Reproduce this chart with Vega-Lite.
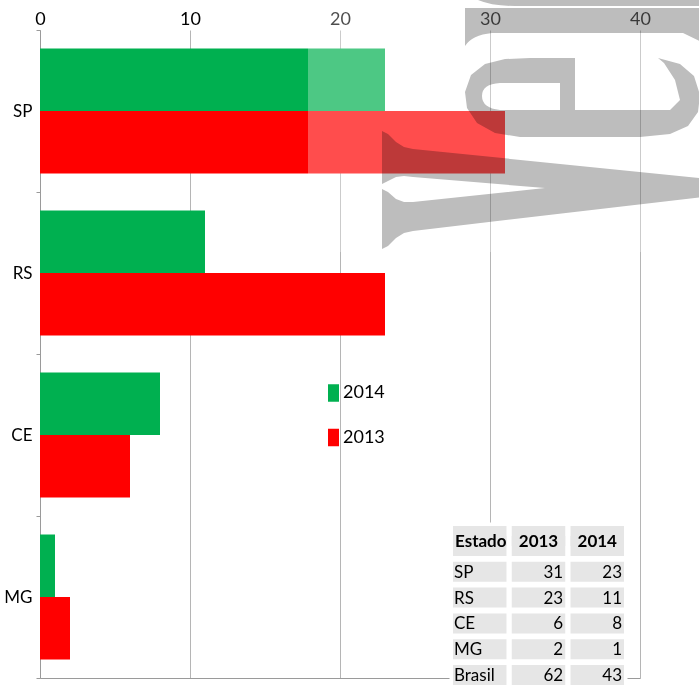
{
  "$schema": "https://vega.github.io/schema/vega-lite/v6.json",
  "width": 600,
  "height": 648,
  "autosize": {"type": "none"},
  "padding": {"left": 40, "top": 30, "right": 59, "bottom": 8},
  "config": {"view": {"stroke": null}, "font": "Lato"},
  "datasets": {
    "dados": [
      {"estado": "SP", "ano": "2014", "n": 23},
      {"estado": "SP", "ano": "2013", "n": 31},
      {"estado": "RS", "ano": "2014", "n": 11},
      {"estado": "RS", "ano": "2013", "n": 23},
      {"estado": "CE", "ano": "2014", "n": 8},
      {"estado": "CE", "ano": "2013", "n": 6},
      {"estado": "MG", "ano": "2014", "n": 1},
      {"estado": "MG", "ano": "2013", "n": 2}
    ],
    "tabela": [
      {"linha": "Estado", "coluna": "Estado", "texto": "Estado"},
      {"linha": "Estado", "coluna": "2013", "texto": "2013"},
      {"linha": "Estado", "coluna": "2014", "texto": "2014"},
      {"linha": "SP", "coluna": "Estado", "texto": "SP"},
      {"linha": "SP", "coluna": "2013", "texto": "31"},
      {"linha": "SP", "coluna": "2014", "texto": "23"},
      {"linha": "RS", "coluna": "Estado", "texto": "RS"},
      {"linha": "RS", "coluna": "2013", "texto": "23"},
      {"linha": "RS", "coluna": "2014", "texto": "11"},
      {"linha": "CE", "coluna": "Estado", "texto": "CE"},
      {"linha": "CE", "coluna": "2013", "texto": "6"},
      {"linha": "CE", "coluna": "2014", "texto": "8"},
      {"linha": "MG", "coluna": "Estado", "texto": "MG"},
      {"linha": "MG", "coluna": "2013", "texto": "2"},
      {"linha": "MG", "coluna": "2014", "texto": "1"},
      {"linha": "Brasil", "coluna": "Estado", "texto": "Brasil"},
      {"linha": "Brasil", "coluna": "2013", "texto": "62"},
      {"linha": "Brasil", "coluna": "2014", "texto": "43"}
    ],
    "marca": [{"marca": "Veja"}]
  },
  "layer": [
    {
      "layer": [
        {
          "data": {"name": "dados"},
          "mark": {"type": "bar"},
          "encoding": {
            "y": {
              "field": "estado", "type": "nominal",
              "scale": {"domain": ["SP", "RS", "CE", "MG"], "paddingInner": 0, "paddingOuter": 0},
              "axis": {
                "orient": "left", "title": null, "grid": false,
                "labelFontSize": 17, "labelColor": "#000000", "labelPadding": 4,
                "domainColor": "#9a9a9a", "tickColor": "#9a9a9a", "tickSize": 4, "tickBand": "extent"
              }
            },
            "yOffset": {"field": "ano", "type": "nominal", "sort": ["2014", "2013"], "scale": {"paddingInner": 0, "paddingOuter": 0.296}},
            "x": {
              "field": "n", "type": "quantitative",
              "scale": {"domain": [0, 40], "nice": false},
              "axis": {
                "orient": "top", "title": null, "values": [0, 10, 20, 30, 40],
                "grid": true, "gridColor": "#b5b5b5", "ticks": false, "domain": false,
                "labelFontSize": 18, "labelColor": "#000000", "labelPadding": 2, "labelFlush": false
              }
            },
            "color": {
              "field": "ano", "type": "nominal",
              "scale": {"domain": ["2014", "2013"], "range": ["#00b050", "#ff0000"]},
              "legend": {
                "orient": "none", "legendX": 284.5, "legendY": 354, "title": null,
                "symbolType": "M-5.5,-8.75H5.5V8.75H-5.5Z", "symbolSize": 4,
                "symbolStrokeWidth": 0, "symbolOpacity": 1,
                "labelFontSize": 18, "labelColor": "#000000", "labelOffset": 0.5,
                "rowPadding": 26.5, "padding": 0
              }
            }
          }
        },
        {
          "data": {"name": "marca"},
          "mark": {"type": "point", "shape": "M-32,-130H400V141H-32Z", "size": 4, "filled": true, "fill": "#ffffff", "fillOpacity": 0.3, "strokeWidth": 0, "opacity": 1},
          "encoding": {
            "x": {"datum": 20, "type": "quantitative", "axis": {"orient": "bottom", "title": null, "labels": false, "ticks": false, "grid": false, "domain": true, "domainColor": "#9a9a9a"}},
            "y": {"datum": "SP", "type": "nominal"}
          }
        },
        {
          "data": {"name": "marca"},
          "mark": {
            "type": "point",
            "shape": "M42,20L48,23L56,31L64,36L73,38L448,76L73,120L64,122L56,127L48,135L42,138L42,78L48,81L56,88L64,91L73,91L205,77L73,66L64,65L56,66L48,70L42,73Z M235,-53L235,-1L330,-1L340,-11L335,-31L324,-48L318,-53L340,-47L354,-35L360,-16L358,1L348,15L330,23L300,26L180,26L155,22L137,12L127,-3L125,-19L131,-36L145,-47L165,-52L190,-53Z M220,-28L160,-28Q142,-27 142,-15Q142,-3 160,-1L220,-1Z M125,-103L380,-103L380,-78L152,-78Q132,-76 125,-65Z M138,-116L380,-116L380,-105L175,-105Q152,-105 138,-111Z M343,-78L380,-78L380,-60Z",
            "size": 4, "filled": true, "fill": "#bdbdbd", "strokeWidth": 0, "opacity": 1, "blend": "multiply"
          },
          "encoding": {
            "x": {"datum": 20, "type": "quantitative", "axis": null},
            "y": {"datum": "SP", "type": "nominal"}
          }
        }
      ],
      "resolve": {"axis": {"x": "independent"}}
    },
    {
      "data": {"name": "tabela"},
      "layer": [
        {
          "mark": {"type": "rect", "fill": "#ffffff", "stroke": "#ffffff", "strokeWidth": 7},
          "encoding": {
            "x": {"field": "coluna", "type": "nominal", "scale": {"domain": ["Estado", "2013", "2014"], "range": [413, 584], "paddingInner": 0.09, "paddingOuter": 0}, "axis": null},
            "y": {"field": "linha", "type": "nominal", "scale": {"domain": ["Estado", "SP", "RS", "CE", "MG", "Brasil"], "range": [506, 655], "paddingInner": 0.225, "paddingOuter": 0}, "axis": null}
          }
        },
        {
          "transform": [{"filter": "datum.linha === 'Estado'"}],
          "mark": {"type": "rect", "fill": "#ffffff", "stroke": "#ffffff", "strokeWidth": 7, "yOffset": -10},
          "encoding": {
            "x": {"field": "coluna", "type": "nominal", "axis": null},
            "y": {"field": "linha", "type": "nominal", "axis": null}
          }
        },
        {
          "mark": {"type": "rect", "fill": "#e6e6e6"},
          "encoding": {
            "x": {"field": "coluna", "type": "nominal", "axis": null},
            "y": {"field": "linha", "type": "nominal", "axis": null}
          }
        },
        {
          "transform": [{"filter": "datum.linha === 'Estado'"}],
          "mark": {"type": "rect", "fill": "#e6e6e6", "yOffset": -10},
          "encoding": {
            "x": {"field": "coluna", "type": "nominal", "axis": null},
            "y": {"field": "linha", "type": "nominal", "axis": null}
          }
        },
        {
          "transform": [{"filter": "datum.linha === 'Estado' && datum.coluna === 'Estado'"}],
          "mark": {"type": "text", "align": "left", "baseline": "middle", "dx": 2, "yOffset": -4, "fontSize": 17, "fontWeight": "bold", "color": "#000000"},
          "encoding": {
            "x": {"field": "coluna", "type": "nominal", "bandPosition": 0, "axis": null},
            "y": {"field": "linha", "type": "nominal", "axis": null},
            "text": {"field": "texto"}
          }
        },
        {
          "transform": [{"filter": "datum.linha === 'Estado' && datum.coluna !== 'Estado'"}],
          "mark": {"type": "text", "align": "center", "baseline": "middle", "yOffset": -4, "fontSize": 17, "fontWeight": "bold", "color": "#000000"},
          "encoding": {
            "x": {"field": "coluna", "type": "nominal", "axis": null},
            "y": {"field": "linha", "type": "nominal", "axis": null},
            "text": {"field": "texto"}
          }
        },
        {
          "transform": [{"filter": "datum.linha !== 'Estado' && datum.coluna === 'Estado'"}],
          "mark": {"type": "text", "align": "left", "baseline": "middle", "dx": 1, "dy": 1, "fontSize": 17, "color": "#000000"},
          "encoding": {
            "x": {"field": "coluna", "type": "nominal", "bandPosition": 0, "axis": null},
            "y": {"field": "linha", "type": "nominal", "axis": null},
            "text": {"field": "texto"}
          }
        },
        {
          "transform": [{"filter": "datum.linha !== 'Estado' && datum.coluna !== 'Estado'"}],
          "mark": {"type": "text", "align": "right", "baseline": "middle", "dx": -2, "dy": 1, "fontSize": 17, "color": "#000000"},
          "encoding": {
            "x": {"field": "coluna", "type": "nominal", "bandPosition": 1, "axis": null},
            "y": {"field": "linha", "type": "nominal", "axis": null},
            "text": {"field": "texto"}
          }
        }
      ]
    }
  ],
  "resolve": {"scale": {"x": "independent", "y": "independent", "color": "independent"}}
}
